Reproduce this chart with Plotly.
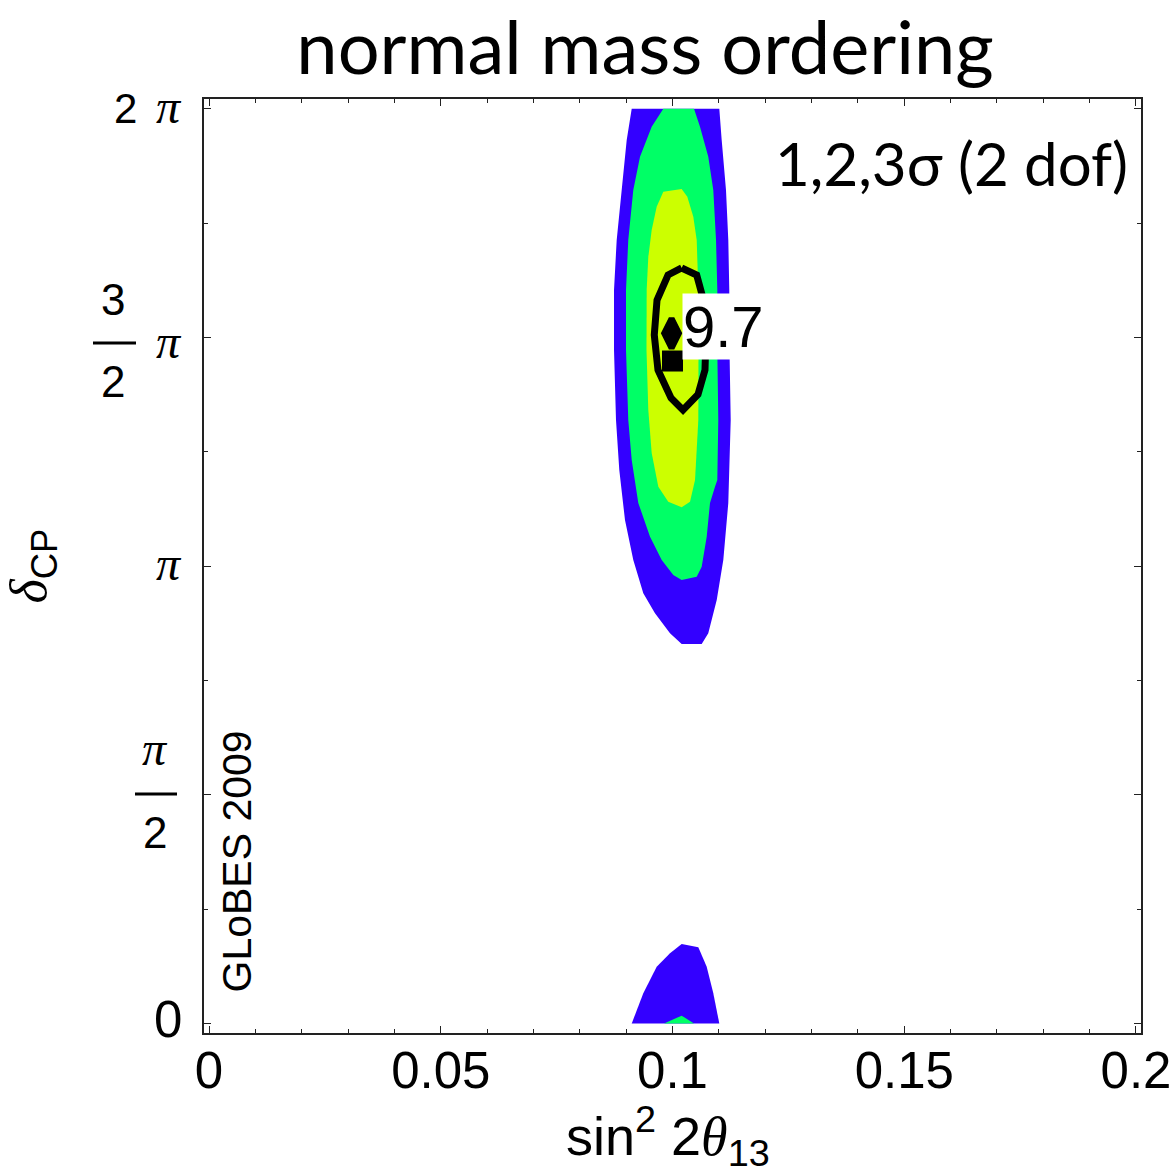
import math
import plotly.graph_objects as go

PI = math.pi

# Allowed regions in the (sin^2 2theta13, delta_CP [rad]) plane, boundary points
# 3 sigma, main lobe
sigma3_x = [0.09120, 0.09012, 0.08904, 0.08796, 0.08738, 0.08738, 0.08781, 0.08852, 0.08975,
            0.09154, 0.09370, 0.09622, 0.09946, 0.10198, 0.10630, 0.10772, 0.10954, 0.11096,
            0.11204, 0.11241, 0.11256, 0.11230, 0.11225, 0.11204, 0.11154, 0.11061, 0.11010]
sigma3_y = [6.283, 6.068, 5.725, 5.381, 5.038, 4.626, 4.145, 3.802, 3.458,
            3.183, 2.955, 2.817, 2.680, 2.606, 2.606, 2.680, 2.909, 3.183,
            3.575, 3.918, 4.145, 4.626, 5.038, 5.381, 5.725, 6.068, 6.283]
# 3 sigma, lobe continuing above delta_CP = 0
sigma3_low_x = [0.09120, 0.09370, 0.09659, 0.09946, 0.10198, 0.10557, 0.10738, 0.10880, 0.11010]
sigma3_low_y = [0.0, 0.207, 0.390, 0.482, 0.546, 0.523, 0.390, 0.207, 0.0]

# 2 sigma
sigma2_x = [0.09802, 0.09551, 0.09299, 0.09154, 0.09046, 0.08997, 0.08997, 0.09046, 0.09120,
            0.09262, 0.09515, 0.09767, 0.10017, 0.10198, 0.10522, 0.10630, 0.10738, 0.10809,
            0.10917, 0.10967, 0.10988, 0.10967, 0.10967, 0.10939, 0.10880, 0.10772, 0.10593,
            0.10464]
sigma2_y = [6.283, 6.159, 5.953, 5.725, 5.381, 5.038, 4.626, 4.145, 3.870,
            3.575, 3.343, 3.183, 3.080, 3.046, 3.069, 3.137, 3.343, 3.575,
            3.687, 3.733, 4.145, 4.626, 5.038, 5.381, 5.725, 5.953, 6.159,
            6.283]
sigma2_low_x = [0.09817, 0.10198, 0.10464]
sigma2_low_y = [0.0, 0.054, 0.0]

# 1 sigma
sigma1_x = [0.09802, 0.09659, 0.09551, 0.09478, 0.09443, 0.09439, 0.09478, 0.09551, 0.09694,
            0.09909, 0.10198, 0.10378, 0.10486, 0.10522, 0.10557, 0.10561, 0.10557, 0.10522,
            0.10449, 0.10319, 0.10198]
sigma1_y = [5.713, 5.610, 5.450, 5.266, 5.038, 4.626, 4.214, 3.918, 3.687,
            3.584, 3.545, 3.584, 3.733, 3.918, 4.145, 4.626, 5.038, 5.381,
            5.541, 5.679, 5.731]

# Contour line with its value label
contour_x = [0.10198, 0.10522, 0.10669, 0.10723, 0.10701, 0.10550, 0.10227, 0.09968, 0.09687,
             0.09607, 0.09666, 0.09903, 0.10198]
contour_y = [5.189, 5.141, 4.969, 4.729, 4.488, 4.320, 4.214, 4.296, 4.488,
             4.729, 4.969, 5.141, 5.189]
contour_value = "9.7"
contour_label_x = 0.1111
contour_label_y = 4.784

# Points
best_fit_x = [0.0998]
best_fit_y = [4.74]
true_x = [0.1000]
true_y = [4.55]

# Axes
x_range = [-0.00108, 0.20108]
y_range = [-0.0652, 6.3496]
x_ticks = [0, 0.05, 0.1, 0.15, 0.2]
x_tick_labels = ["0", "0.05", "0.1", "0.15", "0.2"]
y_ticks = [0, PI / 2, PI, 3 * PI / 2, 2 * PI]

BLUE = "#3300FF"
GREEN = "#00FF66"
YELLOW = "#CCFF00"
SANS = "Liberation Sans, Arial, sans-serif"
SERIF = "Liberation Serif, Times New Roman, serif"
TITLE_FONT = "Lato, Open Sans, sans-serif"

fig = go.Figure()


def region(xs, ys, color):
    fig.add_trace(go.Scatter(x=xs, y=ys, mode="lines", fill="toself", fillcolor=color,
                             line=dict(width=0, color=color), hoverinfo="skip",
                             showlegend=False))


region(sigma3_x, sigma3_y, BLUE)
region(sigma3_low_x, sigma3_low_y, BLUE)
region(sigma2_x, sigma2_y, GREEN)
region(sigma2_low_x, sigma2_low_y, GREEN)
region(sigma1_x, sigma1_y, YELLOW)

fig.add_trace(go.Scatter(x=contour_x, y=contour_y, mode="lines",
                         line=dict(color="black", width=7), showlegend=False,
                         hoverinfo="skip"))
fig.add_trace(go.Scatter(x=best_fit_x, y=best_fit_y, mode="markers",
                         marker=dict(symbol="diamond-tall", size=21, color="black",
                                     line=dict(color="black", width=6)),
                         showlegend=False))
fig.add_trace(go.Scatter(x=true_x, y=true_y, mode="markers",
                         marker=dict(symbol="square", size=21, color="black",
                                     line=dict(width=0)),
                         showlegend=False))

annotations = [
    dict(x=contour_label_x, y=contour_label_y, xref="x", yref="y", text=contour_value,
         showarrow=False, font=dict(family=SANS, size=58, color="black"),
         bgcolor="white", borderpad=0, xanchor="center", yanchor="middle"),
    dict(x=0.9883, y=0.9315, xref="paper", yref="paper", text="1,2,3σ (2 dof)",
         showarrow=False, font=dict(family=TITLE_FONT, size=60, color="black"),
         xanchor="right", yanchor="middle"),
    dict(x=0.0352, y=0.1836, xref="paper", yref="paper", text="GLoBES 2009",
         textangle=-90, showarrow=False, font=dict(family=SANS, size=41, color="black"),
         xanchor="center", yanchor="middle"),
    # x axis title
    dict(x=0.4957, y=0, xref="paper", yref="paper", yshift=-103,
         text="sin<sup>2</sup> 2<span style='font-family:Liberation Serif'><i>θ</i></span><sub>13</sub>",
         showarrow=False, font=dict(family=SANS, size=54, color="black"),
         xanchor="center", yanchor="middle"),
]

# delta_CP tick labels in units of pi: (text, tick value, dx, dy, size, serif)
y_label_parts = [
    ("2", 2 * PI, -78.5, 0.2, 42, False),
    ("π", 2 * PI, -35.5, 1.7, 48, True),
    ("3", 3 * PI / 2, -91, 37.4, 44, False),
    ("2", 3 * PI / 2, -91, -44.4, 44, False),
    ("π", 3 * PI / 2, -35.5, -4.4, 48, True),
    ("π", PI, -35.5, 2.3, 48, True),
    ("π", PI / 2, -49, 46, 48, True),
    ("2", PI / 2, -49, -38, 44, False),
    ("0", 0, -35.7, 4.1, 51, False),
]
for text, val, dx, dy, size, serif in y_label_parts:
    annotations.append(dict(
        x=0, xref="paper", y=val, yref="y", xshift=dx, yshift=dy,
        text=f"<i>{text}</i>" if serif else text, showarrow=False,
        xanchor="center", yanchor="middle",
        font=dict(family=SERIF if serif else SANS, size=size, color="black")))

# fraction bars: (tick value, x0, x1, dy)
fraction_bars = [(3 * PI / 2, -111, -68, -5.6), (PI / 2, -69, -27, 0.8)]
shapes = []
for val, x0, x1, dy in fraction_bars:
    shapes.append(dict(type="line", xref="paper", xsizemode="pixel", xanchor=0,
                       x0=x0, x1=x1, yref="y", ysizemode="pixel", yanchor=val,
                       y0=dy, y1=dy, line=dict(color="black", width=3)))

axis_common = dict(
    showgrid=False, zeroline=False, showline=True, linecolor="#222", linewidth=1.5,
    mirror="ticks", ticks="inside", ticklen=7, tickwidth=1.2, tickcolor="#222",
)

fig.update_layout(
    width=1176, height=1174,
    margin=dict(l=204, r=35, t=99, b=141, autoexpand=False),
    plot_bgcolor="white", paper_bgcolor="white",
    title=dict(text="normal mass ordering", x=0.5485, y=0.959, xref="container",
               yref="container", xanchor="center", yanchor="middle",
               font=dict(family=TITLE_FONT, size=74, color="black")),
    xaxis=dict(
        range=x_range, tickmode="array", tickvals=x_ticks, ticktext=x_tick_labels,
        tickfont=dict(family=SANS, size=51, color="black"),
        ticklabelstandoff=-8,
        minor=dict(dtick=0.01, tick0=0, ticks="inside", ticklen=4, tickcolor="#222",
                   tickwidth=1),
        **axis_common,
    ),
    yaxis=dict(
        range=y_range, tickmode="array", tickvals=y_ticks, showticklabels=False,
        minor=dict(dtick=PI / 4, tick0=0, ticks="inside", ticklen=4, tickcolor="#222",
                   tickwidth=1),
        title=dict(text="<span style='font-family:Liberation Serif'><i>δ</i></span><sub>CP</sub>",
                   font=dict(family=SANS, size=52, color="black"), standoff=140),
        **axis_common,
    ),
    annotations=annotations,
    shapes=shapes,
    showlegend=False,
)

fig.write_html("out.html")
